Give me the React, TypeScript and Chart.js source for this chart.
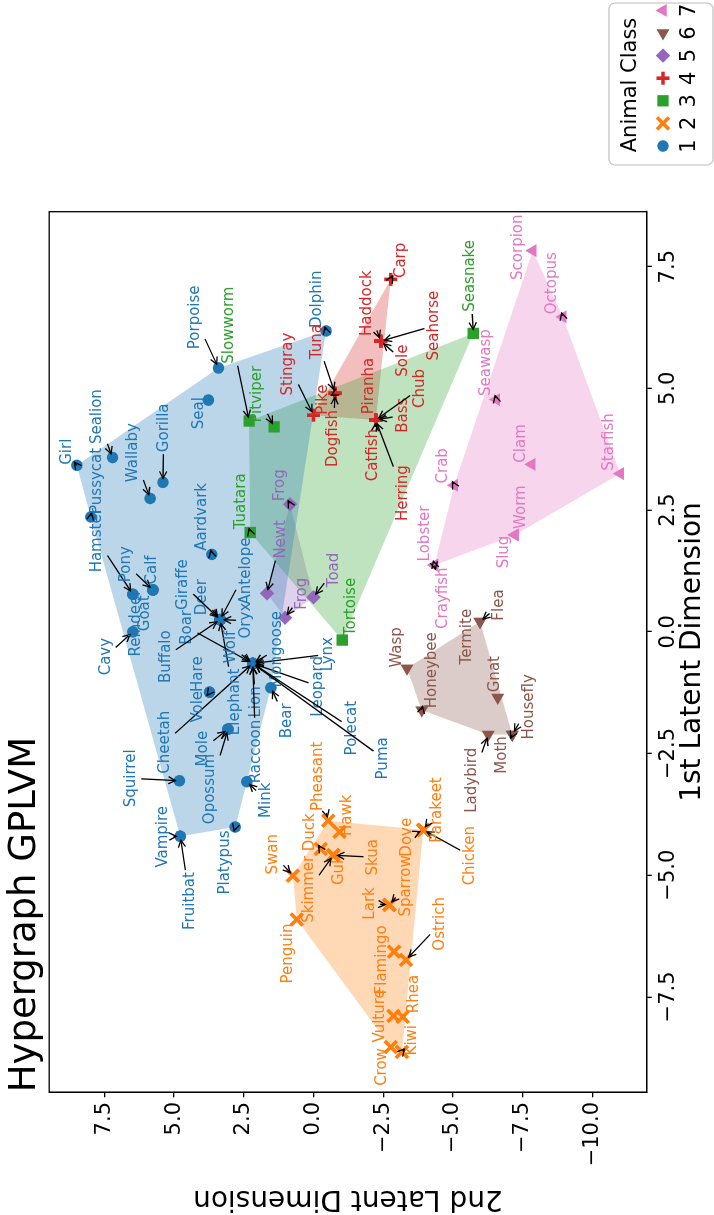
import React, { useEffect, useRef } from 'react';
import { Chart, registerables } from 'chart.js';

Chart.register(...registerables);
Chart.defaults.font.family = "'DejaVu Sans', sans-serif";

// [name, 1st latent dim, 2nd latent dim, label 1st dim, label 2nd dim]
type Animal = [string, number, number, number, number];

const CLASS_NAMES = ['1', '2', '3', '4', '5', '6', '7'];
const CLASS_COLORS = ['#1f77b4', '#ff7f0e', '#2ca02c', '#d62728', '#9467bd', '#8c564b', '#e377c2'];

const X_TICKS = [-7.5, -5, -2.5, 0, 2.5, 5, 7.5];
const Y_TICKS = [-10, -7.5, -5, -2.5, 0, 2.5, 5, 7.5];
const X_RANGE = [-9.46, 8.63];
const Y_RANGE = [-11.95, 9.48];

const mammals: Animal[] = [
  ['Aardvark', 1.59, 3.65, 2.36, 3.98],
  ['Antelope', 0.25, 3.35, 1.25, 2.42],
  ['Bear', -1.15, 1.53, -1.83, 0.96],
  ['Boar', -0.65, 2.18, 0.09, 4.52],
  ['Buffalo', 0.25, 3.35, -0.51, 5.30],
  ['Calf', 0.86, 5.76, 1.27, 5.78],
  ['Cavy', 0.0, 6.48, -0.51, 7.45],
  ['Cheetah', -0.65, 2.18, -2.27, 5.32],
  ['Deer', 0.25, 3.35, 0.71, 3.98],
  ['Dolphin', 6.18, -0.45, 6.83, -0.12],
  ['Elephant', 0.25, 3.35, -1.44, 2.81],
  ['Fruitbat', -4.2, 4.78, -5.53, 4.43],
  ['Giraffe', 0.25, 3.35, 0.97, 4.67],
  ['Girl', 3.42, 8.49, 3.70, 8.85],
  ['Goat', 0.86, 5.76, 0.38, 6.05],
  ['Gorilla', 3.07, 5.40, 4.19, 5.37],
  ['Hamster', 0.77, 6.48, 1.88, 7.75],
  ['Hare', -1.24, 3.73, -0.87, 4.13],
  ['Leopard', -0.65, 2.18, -1.12, -0.18],
  ['Lion', -0.65, 2.18, -1.44, 2.07],
  ['Lynx', -0.65, 2.18, -0.46, -0.53],
  ['Mink', -3.08, 2.39, -3.46, 1.70],
  ['Mole', -2.0, 3.07, -2.40, 3.95],
  ['Mongoose', -0.65, 2.18, -0.36, 1.32],
  ['Opossum', -2.0, 3.07, -3.23, 3.71],
  ['Oryx', 0.25, 3.35, 0.23, 2.42],
  ['Platypus', -4.01, 2.81, -4.74, 3.17],
  ['Polecat', -0.65, 2.18, -1.98, -1.37],
  ['Pony', 0.86, 5.76, 1.39, 6.72],
  ['Porpoise', 5.42, 3.41, 6.46, 4.25],
  ['Puma', -0.65, 2.18, -2.60, -2.51],
  ['Pussycat', 2.36, 7.99, 3.10, 7.75],
  ['Raccoon', -0.65, 2.18, -2.46, 2.07],
  ['Reindeer', 0.77, 6.48, 0.18, 6.37],
  ['Seal', 4.76, 3.77, 4.49, 4.10],
  ['Sealion', 3.58, 7.21, 4.42, 7.75],
  ['Squirrel', -3.06, 4.81, -3.01, 6.54],
  ['Vampire', -4.2, 4.78, -4.21, 5.38],
  ['Vole', -1.24, 3.73, -1.54, 4.13],
  ['Wallaby', 2.74, 5.86, 3.68, 6.46],
  ['Wolf', -0.65, 2.18, -0.31, 2.94],
];

const birds: Animal[] = [
  ['Chicken', -4.07, -3.94, -4.60, -5.62],
  ['Crow', -8.53, -2.77, -8.94, -2.45],
  ['Dove', -4.07, -3.94, -4.22, -3.37],
  ['Duck', -4.46, -0.26, -4.12, 0.12],
  ['Flamingo', -6.57, -2.89, -6.74, -2.45],
  ['Gull', -4.59, -0.71, -4.90, -0.90],
  ['Hawk', -4.11, -0.93, -3.77, -1.20],
  ['Kiwi', -8.63, -3.17, -8.39, -3.55],
  ['Lark', -5.61, -2.72, -5.58, -2.03],
  ['Ostrich', -6.74, -3.32, -6.00, -4.54],
  ['Parakeet', -4.07, -3.94, -3.66, -4.44],
  ['Penguin', -5.91, 0.60, -6.61, 0.90],
  ['Pheasant', -3.88, -0.53, -2.97, -0.15],
  ['Rhea', -7.91, -3.20, -7.44, -3.61],
  ['Skimmer', -4.59, -0.71, -5.29, 0.16],
  ['Skua', -4.59, -0.71, -4.63, -2.15],
  ['Sparrow', -5.61, -2.72, -5.22, -3.31],
  ['Swan', -5.01, 0.74, -4.57, 1.44],
  ['Vulture', -7.89, -2.87, -7.89, -2.39],
];

const reptiles: Animal[] = [
  ['Pitviper', 4.21, 1.41, 4.88, 2.01],
  ['Seasnake', 6.13, -5.73, 7.31, -5.62],
  ['Slowworm', 4.33, 2.31, 6.30, 3.02],
  ['Tortoise', -0.17, -1.03, 0.51, -1.35],
  ['Tuatara', 2.04, 2.27, 2.68, 2.61],
];

const fish: Animal[] = [
  ['Bass', 4.35, -2.23, 4.45, -3.20],
  ['Carp', 7.24, -2.77, 7.63, -3.15],
  ['Catfish', 4.35, -2.23, 3.63, -2.15],
  ['Chub', 4.35, -2.23, 5.00, -3.82],
  ['Dogfish', 4.90, -0.77, 3.97, -0.71],
  ['Haddock', 5.97, -2.41, 6.75, -1.91],
  ['Herring', 4.35, -2.23, 2.85, -3.22],
  ['Pike', 4.90, -0.77, 4.77, -0.36],
  ['Piranha', 4.35, -2.23, 5.05, -2.00],
  ['Seahorse', 5.97, -2.41, 6.29, -4.34],
  ['Sole', 5.97, -2.41, 5.57, -3.22],
  ['Stingray', 4.45, 0.0, 5.50, 0.90],
  ['Tuna', 4.90, -0.77, 5.96, -0.14],
];

const amphibians: Animal[] = [
  ['Frog', 2.62, 0.84, 3.01, 1.20],
  ['Frog', 0.29, 1.02, 0.78, 0.40],
  ['Newt', 0.79, 1.67, 1.90, 1.17],
  ['Toad', 0.71, 0.0, 1.27, -0.74],
];

const insects: Animal[] = [
  ['Flea', 0.21, -5.97, 0.55, -6.67],
  ['Gnat', -1.35, -6.61, -0.87, -6.52],
  ['Honeybee', -1.61, -3.88, -0.79, -4.24],
  ['Housefly', -2.11, -7.13, -1.54, -7.72],
  ['Ladybird', -2.11, -6.27, -3.05, -5.68],
  ['Moth', -2.11, -7.13, -2.53, -6.77],
  ['Termite', 0.21, -5.97, -0.10, -5.52],
  ['Wasp', -0.75, -3.35, -0.32, -3.01],
];

const invertebrates: Animal[] = [
  ['Clam', 3.44, -7.83, 3.87, -7.43],
  ['Crab', 3.01, -5.05, 3.41, -4.66],
  ['Crayfish', 1.37, -4.34, 0.69, -4.64],
  ['Lobster', 1.37, -4.34, 2.02, -4.00],
  ['Octopus', 6.47, -8.94, 7.16, -8.57],
  ['Scorpion', 7.83, -7.86, 7.90, -7.35],
  ['Seawasp', 4.77, -6.55, 5.53, -6.18],
  ['Slug', 1.99, -7.23, 1.64, -6.83],
  ['Starfish', 3.25, -11.0, 3.90, -10.61],
  ['Worm', 1.99, -7.23, 2.56, -7.43],
];

const CLASSES: Animal[][] = [mammals, birds, reptiles, fish, amphibians, insects, invertebrates];

// marker look for each class (drawn in the unrotated frame)
const MARKERS = [
  { style: 'circle', radius: 5.8, width: 0, rotation: 0 },
  { style: 'crossRot', radius: 8.5, width: 3.6, rotation: 0 },
  { style: 'rect', radius: 8, width: 0, rotation: 0 },
  { style: 'cross', radius: 6.5, width: 3.6, rotation: 0 },
  { style: 'rectRot', radius: 7.2, width: 0, rotation: 0 },
  { style: 'triangle', radius: 7.5, width: 0, rotation: -90 },
  { style: 'triangle', radius: 7.5, width: 0, rotation: 0 },
];

const FONT = "'DejaVu Sans', sans-serif";

function hexToRgba(hex: string, a: number) {
  const n = parseInt(hex.slice(1), 16);
  return `rgba(${(n >> 16) & 255},${(n >> 8) & 255},${n & 255},${a})`;
}

function convexHull(pts: number[][]) {
  const p = [...pts].sort((a, b) => a[0] - b[0] || a[1] - b[1]);
  if (p.length < 3) return p;
  const cross = (o: number[], a: number[], b: number[]) =>
    (a[0] - o[0]) * (b[1] - o[1]) - (a[1] - o[1]) * (b[0] - o[0]);
  const lower: number[][] = [];
  for (const q of p) {
    while (lower.length >= 2 && cross(lower[lower.length - 2], lower[lower.length - 1], q) <= 0) lower.pop();
    lower.push(q);
  }
  const upper: number[][] = [];
  for (let i = p.length - 1; i >= 0; i--) {
    const q = p[i];
    while (upper.length >= 2 && cross(upper[upper.length - 2], upper[upper.length - 1], q) <= 0) upper.pop();
    upper.push(q);
  }
  upper.pop();
  lower.pop();
  return lower.concat(upper);
}

const fmtTick = (v: number) => (v < 0 ? '\u2212' : '') + Math.abs(v).toFixed(1);

function drawMarker(ctx: CanvasRenderingContext2D, m: any, x: number, y: number, color: string) {
  const r = m.radius;
  let rad = (m.rotation * Math.PI) / 180;
  ctx.save();
  ctx.fillStyle = color;
  ctx.strokeStyle = color;
  ctx.lineWidth = m.width;
  ctx.beginPath();
  if (m.style === 'circle') {
    ctx.arc(x, y, r, 0, Math.PI * 2);
    ctx.fill();
  } else if (m.style === 'rect') {
    const s = Math.SQRT1_2 * r;
    ctx.rect(x - s, y - s, 2 * s, 2 * s);
    ctx.fill();
  } else if (m.style === 'rectRot') {
    ctx.moveTo(x - r, y);
    ctx.lineTo(x, y - r);
    ctx.lineTo(x + r, y);
    ctx.lineTo(x, y + r);
    ctx.closePath();
    ctx.fill();
  } else if (m.style === 'triangle') {
    ctx.moveTo(x + Math.sin(rad) * r, y - Math.cos(rad) * r);
    rad += (2 * Math.PI) / 3;
    ctx.lineTo(x + Math.sin(rad) * r, y - Math.cos(rad) * r);
    rad += (2 * Math.PI) / 3;
    ctx.lineTo(x + Math.sin(rad) * r, y - Math.cos(rad) * r);
    ctx.closePath();
    ctx.fill();
  } else if (m.style === 'cross') {
    ctx.moveTo(x - r, y);
    ctx.lineTo(x + r, y);
    ctx.moveTo(x, y - r);
    ctx.lineTo(x, y + r);
    ctx.stroke();
  } else if (m.style === 'crossRot') {
    const o = r * Math.SQRT1_2;
    ctx.moveTo(x - o, y - o);
    ctx.lineTo(x + o, y + o);
    ctx.moveTo(x + o, y - o);
    ctx.lineTo(x - o, y + o);
    ctx.stroke();
  }
  ctx.restore();
}

function drawArrow(ctx: CanvasRenderingContext2D, x0: number, y0: number, x1: number, y1: number) {
  const ang = Math.atan2(y1 - y0, x1 - x0);
  const c = Math.cos(ang);
  const s = Math.sin(ang);
  ctx.beginPath();
  ctx.moveTo(x0, y0);
  ctx.lineTo(x1, y1);
  ctx.stroke();
  const hl = 7;
  const hw = 3.6;
  const bx = x1 - hl * c;
  const by = y1 - hl * s;
  ctx.beginPath();
  ctx.moveTo(bx - hw * s, by + hw * c);
  ctx.lineTo(x1, y1);
  ctx.lineTo(bx + hw * s, by - hw * c);
  ctx.stroke();
}

const annotationPlugin = {
  id: 'animalLabels',
  afterDatasetsDraw(chart: any) {
    const { ctx, scales } = chart;
    const xs = scales.x;
    const ys = scales.y;
    const items: { a: Animal; c: number }[] = [];
    CLASSES.forEach((list, c) => list.forEach((a) => items.push({ a, c })));
    items.sort((p, q) => p.a[0].localeCompare(q.a[0]));
    ctx.save();
    ctx.font = `15px ${FONT}`;
    ctx.textAlign = 'center';
    ctx.textBaseline = 'middle';
    ctx.lineWidth = 1.3;
    ctx.strokeStyle = '#000';
    ctx.lineCap = 'butt';
    for (const { a, c } of items) {
      const px = xs.getPixelForValue(a[1]);
      const py = ys.getPixelForValue(a[2]);
      const tx = xs.getPixelForValue(a[3]);
      const ty = ys.getPixelForValue(a[4]);
      const w = ctx.measureText(a[0]).width;
      const h = 16;
      const dx = px - tx;
      const dy = py - ty;
      const sx = dx !== 0 ? (w / 2 + 2) / Math.abs(dx) : Infinity;
      const sy = dy !== 0 ? (h / 2 + 2) / Math.abs(dy) : Infinity;
      const sc = Math.min(sx, sy);
      if (sc < 1) {
        const len = Math.hypot(dx, dy);
        const ux = dx / len;
        const uy = dy / len;
        const x0 = tx + dx * sc;
        const y0 = ty + dy * sc;
        const x1 = px - ux * 4;
        const y1 = py - uy * 4;
        if (Math.hypot(x1 - x0, y1 - y0) > 2) drawArrow(ctx, x0, y0, x1, y1);
      }
      ctx.fillStyle = CLASS_COLORS[c];
      ctx.fillText(a[0], tx, ty);
    }
    ctx.restore();
  },
};

const framePlugin = {
  id: 'frameAndLegend',
  afterDraw(chart: any) {
    const { ctx, chartArea } = chart;
    ctx.save();
    ctx.strokeStyle = '#000';
    ctx.lineWidth = 1.3;
    ctx.strokeRect(chartArea.left, chartArea.top, chartArea.right - chartArea.left, chartArea.bottom - chartArea.top);

    // legend box (bottom-right of the unrotated figure)
    const lx = 1050;
    const ly = 609;
    const lw = 162;
    const lh = 104;
    const rr = 6;
    ctx.beginPath();
    ctx.moveTo(lx + rr, ly);
    ctx.lineTo(lx + lw - rr, ly);
    ctx.arcTo(lx + lw, ly, lx + lw, ly + rr, rr);
    ctx.lineTo(lx + lw, ly + lh - rr);
    ctx.arcTo(lx + lw, ly + lh, lx + lw - rr, ly + lh, rr);
    ctx.lineTo(lx + rr, ly + lh);
    ctx.arcTo(lx, ly + lh, lx, ly + lh - rr, rr);
    ctx.lineTo(lx, ly + rr);
    ctx.arcTo(lx, ly, lx + rr, ly, rr);
    ctx.closePath();
    ctx.fillStyle = 'rgba(255,255,255,0.8)';
    ctx.fill();
    ctx.strokeStyle = '#cccccc';
    ctx.lineWidth = 1.3;
    ctx.stroke();

    ctx.fillStyle = '#000';
    ctx.font = `21px ${FONT}`;
    ctx.textAlign = 'center';
    ctx.textBaseline = 'middle';
    ctx.fillText('Animal Class', lx + 80, ly + 22);
    CLASS_NAMES.forEach((name, i) => {
      const cx = lx + 19 + i * 22.6;
      drawMarker(ctx, MARKERS[i], cx, ly + 54, CLASS_COLORS[i]);
      ctx.fillStyle = '#000';
      ctx.fillText(name, cx, ly + 81);
    });
    ctx.restore();
  },
};

function buildConfig(): any {
  const datasets: any[] = [];
  CLASSES.forEach((list, c) => {
    const m = MARKERS[c];
    datasets.push({
      label: CLASS_NAMES[c],
      data: list.map((a) => ({ x: a[1], y: a[2] })),
      pointStyle: m.style,
      pointRadius: m.radius,
      pointHoverRadius: m.radius,
      pointBorderWidth: m.width,
      pointRotation: m.rotation,
      backgroundColor: CLASS_COLORS[c],
      borderColor: CLASS_COLORS[c],
      order: 0,
    });
  });
  CLASSES.forEach((list, c) => {
    const hull = convexHull(list.map((a) => [a[1], a[2]]));
    datasets.push({
      label: 'hull ' + CLASS_NAMES[c],
      data: [...hull, hull[0]].map((p) => ({ x: p[0], y: p[1] })),
      showLine: true,
      fill: 'shape',
      backgroundColor: hexToRgba(CLASS_COLORS[c], 0.3),
      borderColor: 'rgba(0,0,0,0)',
      borderWidth: 0,
      pointRadius: 0,
      pointHoverRadius: 0,
      tension: 0,
      order: 1,
    });
  });

  const axisCommon = {
    type: 'linear',
    grid: { drawOnChartArea: false, drawTicks: true, tickLength: 5, color: '#000', lineWidth: 1.3 },
    border: { display: true, color: '#000', width: 1.3 },
  };

  return {
    type: 'scatter',
    data: { datasets },
    options: {
      animation: false,
      responsive: false,
      events: [],
      layout: { padding: { left: 0, right: 211.7, top: 0, bottom: 0 } },
      plugins: {
        legend: { display: false },
        tooltip: { enabled: false },
        title: {
          display: true,
          text: 'Hypergraph GPLVM',
          align: 'start',
          fullSize: false,
          color: '#000',
          font: { size: 37, weight: 'normal', family: FONT },
          padding: { top: 3, bottom: 1.8 },
        },
      },
      scales: {
        x: {
          ...axisCommon,
          position: 'bottom',
          min: X_RANGE[0],
          max: X_RANGE[1],
          afterBuildTicks: (s: any) => {
            s.ticks = X_TICKS.map((v) => ({ value: v }));
          },
          afterFit: (s: any) => {
            s.height = 67.3;
          },
          ticks: {
            callback: (v: number) => fmtTick(v),
            font: { size: 21, family: FONT },
            color: '#000',
            padding: 4,
            maxRotation: 0,
            minRotation: 0,
            autoSkip: false,
          },
          title: {
            display: true,
            text: '1st Latent Dimension',
            color: '#000',
            font: { size: 28, family: FONT },
            padding: { top: 0, bottom: 4 },
          },
        },
        y: {
          ...axisCommon,
          position: 'left',
          min: Y_RANGE[0],
          max: Y_RANGE[1],
          afterBuildTicks: (s: any) => {
            s.ticks = Y_TICKS.map((v) => ({ value: v }));
          },
          afterFit: (s: any) => {
            s.width = 122.7;
          },
          ticks: {
            callback: (v: number) => fmtTick(v),
            font: { size: 21, family: FONT },
            color: '#000',
            padding: 4.7,
            autoSkip: false,
          },
          title: {
            display: true,
            text: '2nd Latent Dimension',
            color: '#000',
            font: { size: 28, family: FONT },
            padding: { top: 0, bottom: 0 },
          },
        },
      },
    },
    plugins: [annotationPlugin, framePlugin],
  };
}

export default function App() {
  const ref = useRef<HTMLCanvasElement>(null);
  useEffect(() => {
    if (!ref.current) return;
    const chart = new Chart(ref.current, buildConfig());
    return () => chart.destroy();
  }, []);
  return (
    <div
      style={{
        position: 'fixed',
        left: 0,
        top: 0,
        width: 714,
        height: 1215,
        overflow: 'hidden',
        background: '#fff',
      }}
    >
      <div
        style={{
          position: 'absolute',
          left: 0,
          top: 0,
          width: 1215,
          height: 714,
          transformOrigin: '0 0',
          transform: 'translate(0px, 1215px) rotate(-90deg)',
        }}
      >
        <canvas ref={ref} width={1215} height={714} style={{ display: 'block' }} />
      </div>
    </div>
  );
}
